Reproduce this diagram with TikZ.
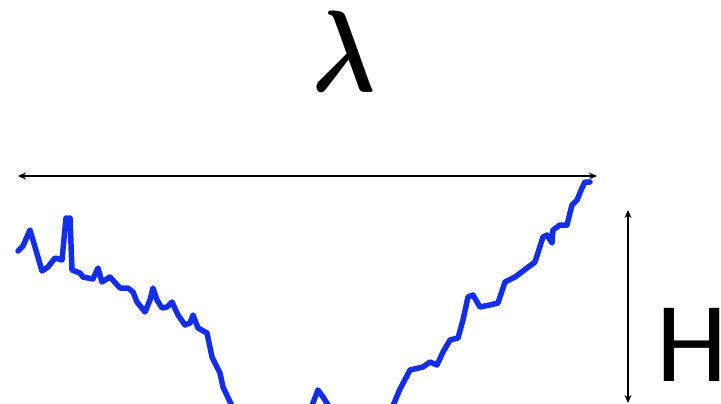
\documentclass[tikz,border=0pt]{standalone}
\usepackage{fontspec}
\newfontfamily\hfont{Carlito}
\usetikzlibrary{arrows.meta}
\definecolor{curveblue}{RGB}{18,46,235}
\tikzset{
  dim/.style={line width=1.5pt, {Stealth[length=8pt,width=7pt]}-{Stealth[length=8pt,width=7pt]}},
  profile/.style={curveblue, line width=5.5pt, line join=round, line cap=round}
}
\begin{document}
\begin{tikzpicture}[x=1pt,y=-1pt]
\useasboundingbox (0,0) rectangle (721,404);
\node[inner sep=0pt] (lam) at (344,51.5) {\scalebox{9.4}[11.6]{\boldmath$\lambda$}};
\node[inner sep=0pt, font=\hfont\fontsize{114}{118}\selectfont] (H) at (692,345) {\makebox[52pt]{H}};
\coordinate (hl) at (18,176);
\coordinate (hr) at (597,176);
\coordinate (vt) at (628,210);
\coordinate (vb) at (628,403);
\draw[dim] (hl) -- (hr);
\draw[dim] (vt) -- (vb);
\begin{scope}
\clip (0,0) rectangle (721,404);
\draw[profile] (18,251) -- (23,246) -- (30,230) -- (35,247) -- (42,271) -- (48,267)
 -- (55,258) -- (62,260) -- (66,218) -- (70,218) -- (72,270) -- (80,273) -- (83,277)
 -- (93,279) -- (98,268) -- (102,282) -- (110,277) -- (120,288) -- (128,288)
 -- (133,292) -- (137,302) -- (145,312) -- (150,300) -- (153,288) -- (157,300)
 -- (162,308) -- (167,307) -- (172,302) -- (178,315) -- (185,325) -- (190,323)
 -- (193,315) -- (198,328) -- (207,333) -- (212,357) -- (220,373) -- (223,387)
 -- (232,406);
\draw[profile] (311,408) -- (318,390) -- (323,397) -- (330,408);
\draw[profile] (392,408) -- (400,389) -- (410,370) -- (423,367) -- (430,362)
 -- (437,365) -- (443,352) -- (450,340) -- (458,338) -- (463,320) -- (468,297)
 -- (473,295) -- (480,307) -- (490,305) -- (498,303) -- (505,282) -- (515,277)
 -- (527,268) -- (535,262) -- (543,237) -- (547,235) -- (552,243) -- (553,230)
 -- (560,225) -- (567,225) -- (572,205) -- (577,200) -- (582,188) -- (585,182)
 -- (590,182);
\end{scope}
\end{tikzpicture}
\end{document}
